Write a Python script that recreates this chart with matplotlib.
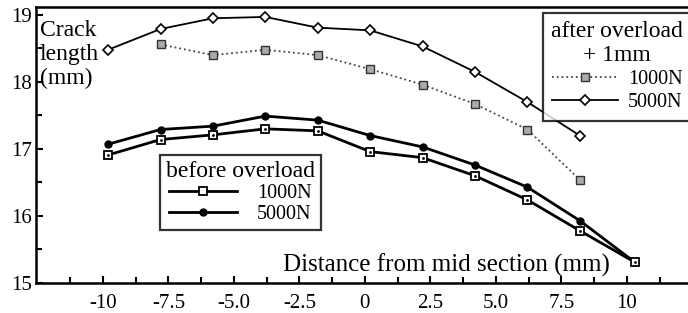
import matplotlib as mpl
mpl.use('Agg')
import matplotlib.pyplot as plt

# distance from mid section (mm)
dist = [-9.8, -7.8, -5.8, -3.8, -1.8, 0.2, 2.2, 4.2, 6.2, 8.2, 10.3]
before_1000 = [16.91, 17.14, 17.21, 17.30, 17.27, 16.96, 16.87, 16.60, 16.24, 15.78, 15.31]
before_5000 = [17.07, 17.29, 17.34, 17.49, 17.43, 17.20, 17.03, 16.76, 16.43, 15.93, 15.31]

dist_after_1000 = [-7.8, -5.8, -3.8, -1.8, 0.2, 2.2, 4.2, 6.2, 8.2]
after_1000 = [18.56, 18.40, 18.48, 18.40, 18.19, 17.96, 17.67, 17.29, 16.54]
dist_after_5000 = [-9.8, -7.8, -5.8, -3.8, -1.8, 0.2, 2.2, 4.2, 6.2, 8.2]
after_5000 = [18.48, 18.79, 18.95, 18.97, 18.81, 18.77, 18.53, 18.15, 17.70, 17.20]

xticks = [-10, -7.5, -5.0, -2.5, 0, 2.5, 5.0, 7.5, 10]
xticklabels = ['-10', '-7.5', '-5.0', '-2.5', '0', '2.5', '5.0', '7.5', '10']
yticks = [15, 16, 17, 18, 19]

plt.rcParams['font.family'] = 'Liberation Serif'

fig = plt.figure(figsize=(6.88, 3.13), dpi=100)
ax = fig.add_axes([0.052, 0.096, 0.948, 0.882])

l2, = ax.plot(dist, before_5000, '-', color='black', lw=2.0, marker='o', ms=5,
              mfc='black', mec='black')
l1, = ax.plot(dist, before_1000, '-', color='black', lw=2.0, marker='s', ms=6,
              mfc='white', mec='black', mew=1.3)
ax.plot(dist, before_1000, ' ', marker='.', ms=2, color='black')
l3, = ax.plot(dist_after_1000, after_1000, ':', color='#444444', lw=1.3, marker='s', ms=6,
              mfc='#aaaaaa', mec='#333333', mew=1.0)
l4, = ax.plot(dist_after_5000, after_5000, '-', color='black', lw=1.3, marker='D', ms=5,
              mfc='white', mec='black', mew=1.2)

ax.set_xlim(-12.56, 12.33)
ax.set_ylim(15, 19.12)
ax.set_xticks(xticks)
ax.set_xticklabels(xticklabels)
ax.set_xticks([-11.25, -8.75, -6.25, -3.75, -1.25, 1.25, 3.75, 6.25, 8.75, 11.25], minor=True)
ax.set_yticks(yticks)
ax.set_yticks([15.5, 16.5, 17.5, 18.5], minor=True)
ax.tick_params(which='both', direction='in', labelsize=15, width=1.5)
ax.tick_params(which='major', length=5)
ax.tick_params(which='minor', length=4)
ax.tick_params(axis='x', pad=8)
ax.tick_params(axis='y', pad=3)
ax.spines['right'].set_visible(False)
for s in ['left', 'bottom', 'top']:
    ax.spines[s].set_linewidth(1.8)

ax.text(-12.4, 18.93, 'Crack\nlength\n(mm)', fontsize=17, ha='left', va='top',
        linespacing=1.2)
ax.text(3.1, 15.26, 'Distance from mid section (mm)', fontsize=18, ha='center', va='center')

leg1 = ax.legend([l3, l4], ['1000N', '5000N'], title='after overload\n+ 1mm',
                 loc='upper left', bbox_to_anchor=(0.778, 0.978), fontsize=14.5,
                 title_fontsize=17, frameon=True, fancybox=False, edgecolor='black',
                 handlelength=3.3, handletextpad=0.5, borderpad=0.4, labelspacing=0.2,
                 borderaxespad=0)
leg1.get_title().set_multialignment('center')
leg1.get_frame().set_linewidth(1.6)
ax.add_artist(leg1)

leg2 = ax.legend([l1, l2], ['1000N', '5000N'], title='before overload',
                 loc='upper left', bbox_to_anchor=(0.19, 0.464), fontsize=14.5,
                 title_fontsize=17, frameon=True, fancybox=False, edgecolor='black',
                 handlelength=3.4, handletextpad=1.0, borderpad=0.3, labelspacing=0.1,
                 borderaxespad=0)
leg2.get_frame().set_linewidth(1.6)

fig.savefig('out.png', dpi=100)
